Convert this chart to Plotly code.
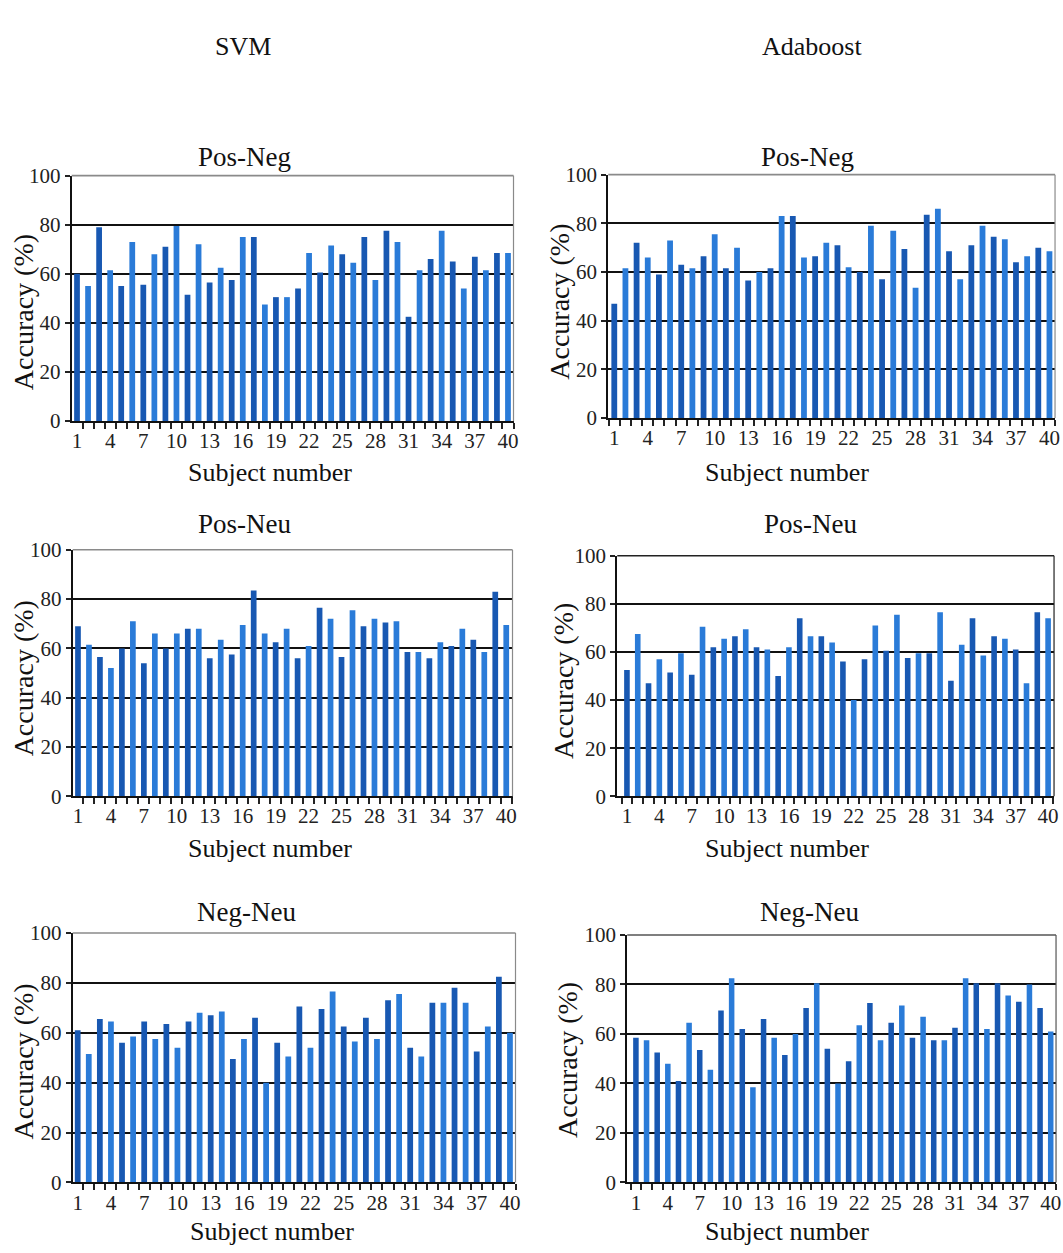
import plotly.graph_objects as go

W, H = 1063, 1253

subjects = list(range(1, 41))
tick_labels = [1, 4, 7, 10, 13, 16, 19, 22, 25, 28, 31, 34, 37, 40]
y_ticks = [0, 20, 40, 60, 80, 100]

svm_pos_neg = [60, 55, 79, 61.5, 55, 73, 55.5, 68, 71, 79.5,
               51.5, 72, 56.5, 62.5, 57.5, 75, 75, 47.5, 50.5, 50.5,
               54, 68.5, 60.5, 71.5, 68, 64.5, 75, 57.5, 77.5, 73,
               42.5, 61.5, 66, 77.5, 65, 54, 67, 61.5, 68.5, 68.5]
ada_pos_neg = [47, 61.5, 72, 66, 59, 73, 63, 61.5, 66.5, 75.5,
               61.5, 70, 56.5, 60, 61.5, 83, 83, 66, 66.5, 72,
               71, 62, 60, 79, 57, 77, 69.5, 53.5, 83.5, 86,
               68.5, 57, 71, 79, 74.5, 73.5, 64, 66.5, 70, 68.5]
svm_pos_neu = [69, 61.5, 56.5, 52, 60, 71, 54, 66, 60, 66,
               68, 68, 56, 63.5, 57.5, 69.5, 83.5, 66, 62.5, 68,
               56, 61, 76.5, 72, 56.5, 75.5, 69, 72, 70.5, 71,
               58.5, 58.5, 56, 62.5, 61, 68, 63.5, 58.5, 83, 69.5]
ada_pos_neu = [52.5, 67.5, 47, 57, 51.5, 59.5, 50.5, 70.5, 62, 65.5,
               66.5, 69.5, 62, 61, 50, 62, 74, 66.5, 66.5, 64,
               56, 40, 57, 71, 60.5, 75.5, 57.5, 59.5, 59.5, 76.5,
               48, 63, 74, 58.5, 66.5, 65.5, 61, 47, 76.5, 74]
svm_neg_neu = [61, 51.5, 65.5, 64.5, 56, 58.5, 64.5, 57.5, 63.5, 54,
               64.5, 68, 67, 68.5, 49.5, 57.5, 66, 40, 56, 50.5,
               70.5, 54, 69.5, 76.5, 62.5, 56.5, 66, 57.5, 73, 75.5,
               54, 50.5, 72, 72, 78, 72, 52.5, 62.5, 82.5, 60]
ada_neg_neu = [58.5, 57.5, 52.5, 48, 41, 64.5, 53.5, 45.5, 69.5, 82.5,
               62, 38.5, 66, 58.5, 51.5, 60, 70.5, 80.5, 54, 40,
               49, 63.5, 72.5, 57.5, 64.5, 71.5, 58.5, 67, 57.5, 57.5,
               62.5, 82.5, 80.5, 62, 80.5, 75.5, 73, 80, 70.5, 61]

col_titles = ["SVM", "Adaboost"]
row_titles = ["Pos-Neg", "Pos-Neu", "Neg-Neu"]
x_title = "Subject number"
y_title = "Accuracy (%)"

# layout (pixel boxes in the target picture): box, x range, border colour,
# row-title centre, x-title centre, y-title centre
panels = [
    (svm_pos_neg, (70, 513, 174, 420), (0.52, 40.5), "#8a8a8a", (243, 155), (269, 472), (22, 311)),
    (ada_pos_neg, (608, 1056, 173, 417), (0.46, 40.5), "#8a8a8a", (559, 300), None, None),
    (svm_pos_neu, (71, 512, 549, 796), (0.52, 40.57), "#8a8a8a", (243, 523), (269, 848), (22, 678)),
    (ada_pos_neu, (617, 1055, 555, 796), (0.1, 40.55), "#222222", (811, 523), (787, 848), (563, 680)),
    (svm_neg_neu, (71, 515, 933, 1183), (0.55, 40.5), "#8a8a8a", (245, 912), (271, 1232), (22, 1062)),
    (ada_neg_neu, (627, 1057, 935, 1183), (0.18, 40.5), "#555555", (810, 912), (787, 1232), (567, 1060)),
]
# fix panel 2 label positions (row title, x title, y title)
panels[1] = (ada_pos_neg, (608, 1056, 173, 417), (0.46, 40.5), "#8a8a8a",
             (808, 155), (787, 472), (559, 300))
col_title_pos = [(242, 45), (812, 45)]

FONT = "Liberation Serif"
dark = "#1858b2"
light = "#2a7bd8"
colors = [dark if i % 2 == 0 else light for i in range(40)]

# calibration from target pixels to paper fractions
def px(x):
    return ((x + 1.9) / 0.998) / W

def py(y):
    return 1 - ((y - 10.0) / 0.983) / H

fig = go.Figure()
annotations = []
shapes = []

for i, (vals, (l, r, t, b), xr, bcol, rt, xt, yt) in enumerate(panels):
    n = i + 1
    xa = "x" if n == 1 else f"x{n}"
    ya = "y" if n == 1 else f"y{n}"
    fig.add_trace(go.Bar(x=subjects, y=vals, xaxis=xa, yaxis=ya,
                         marker=dict(color=colors, line=dict(width=0)),
                         width=0.52, showlegend=False))
    xkey = "xaxis" if n == 1 else f"xaxis{n}"
    ykey = "yaxis" if n == 1 else f"yaxis{n}"
    fig.layout[xkey] = dict(
        domain=[px(l), px(r)], anchor=ya, range=list(xr),
        tickmode="array", tickvals=tick_labels, ticktext=[str(v) for v in tick_labels],
        ticks="outside", ticklen=0, tickcolor="rgba(0,0,0,0)",
        minor=dict(tickmode="array", tickvals=[k + 0.5 for k in range(0, 41)],
                   ticks="outside", ticklen=6, tickwidth=1.5, tickcolor="#222"),
        showline=True, linecolor="#111", linewidth=2,
        showgrid=False, zeroline=False,
        tickfont=dict(family=FONT, size=21, color="#222"),
    )
    fig.layout[ykey] = dict(
        domain=[py(b), py(t)], anchor=xa, range=[0, 100],
        tickmode="array", tickvals=y_ticks,
        ticks="outside", ticklen=5, tickwidth=1.5, tickcolor="#222",
        showline=True, linecolor="#111", linewidth=2,
        showgrid=True, gridcolor="#111", gridwidth=1.6, zeroline=False,
        tickfont=dict(family=FONT, size=21, color="#222"),
    )
    shapes.append(dict(type="line", xref=f"{xa} domain", yref=f"{ya} domain",
                       x0=0, x1=1, y0=1, y1=1, line=dict(color=bcol, width=1.6)))
    shapes.append(dict(type="line", xref=f"{xa} domain", yref=f"{ya} domain",
                       x0=1, x1=1, y0=0, y1=1, line=dict(color=bcol, width=1.2)))
    row = i // 2
    annotations.append(dict(text=row_titles[row], x=px(rt[0]), y=py(rt[1]),
                            xref="paper", yref="paper", showarrow=False,
                            xanchor="center", yanchor="middle",
                            font=dict(family=FONT, size=27, color="#111")))
    annotations.append(dict(text=x_title, x=px(xt[0]), y=py(xt[1]),
                            xref="paper", yref="paper", showarrow=False,
                            xanchor="center", yanchor="middle",
                            font=dict(family=FONT, size=26, color="#111")))
    annotations.append(dict(text=y_title, x=px(yt[0]), y=py(yt[1]),
                            xref="paper", yref="paper", showarrow=False, textangle=-90,
                            xanchor="center", yanchor="middle",
                            font=dict(family=FONT, size=28, color="#111")))

for txt, (cx, cy) in zip(col_titles, col_title_pos):
    annotations.append(dict(text=txt, x=px(cx), y=py(cy), xref="paper", yref="paper",
                            showarrow=False, xanchor="center", yanchor="middle",
                            font=dict(family=FONT, size=26, color="#111")))

fig.update_layout(width=W, height=H, autosize=False,
                  margin=dict(l=0, r=0, t=0, b=0),
                  paper_bgcolor="white", plot_bgcolor="white",
                  bargap=0.5, annotations=annotations, shapes=shapes)

fig.write_html("out.html")
